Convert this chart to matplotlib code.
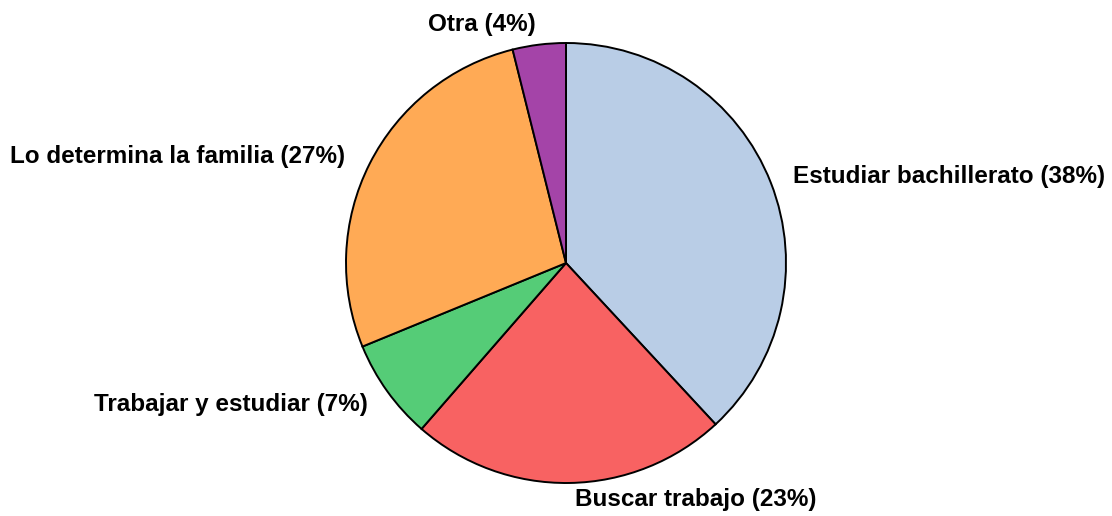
import matplotlib
matplotlib.use("Agg")
import matplotlib.pyplot as plt

categories = ["Estudiar bachillerato", "Buscar trabajo", "Trabajar y estudiar",
              "Lo determina la familia", "Otra"]
values = [38.1, 23.3, 7.4, 27.3, 3.9]
pct_labels = [38, 23, 7, 27, 4]
colors = ["#b9cde6", "#f86262", "#55cc77", "#ffaa55", "#a444a8"]

# label positions (data units, pie radius = 1) and alignment
label_pos = [(1.032, 0.395, "left"), (0.591, -1.077, "center"), (-0.90, -0.645, "right"),
             (-1.005, 0.482, "right"), (-0.382, 1.084, "center")]

plt.rcParams['font.family'] = ['Liberation Sans', 'DejaVu Sans']

fig = plt.figure(figsize=(11.12, 5.16), dpi=100)
ax = fig.add_axes([0, 0, 1, 1])
ax.pie(values, colors=colors, startangle=90, counterclock=False,
       wedgeprops=dict(edgecolor="black", linewidth=1.4))
ax.set_xlim(-566 / 220, (1112 - 566) / 220)
ax.set_ylim(-(516 - 263) / 220, 263 / 220)
ax.set_aspect('auto')
ax.axis('off')

for cat, p, (x, y, ha) in zip(categories, pct_labels, label_pos):
    ax.text(x, y, f"{cat} ({p}%)", ha=ha, va="center", fontsize=17.5,
            fontweight="bold", color="black")

fig.savefig("out.png", dpi=100)
